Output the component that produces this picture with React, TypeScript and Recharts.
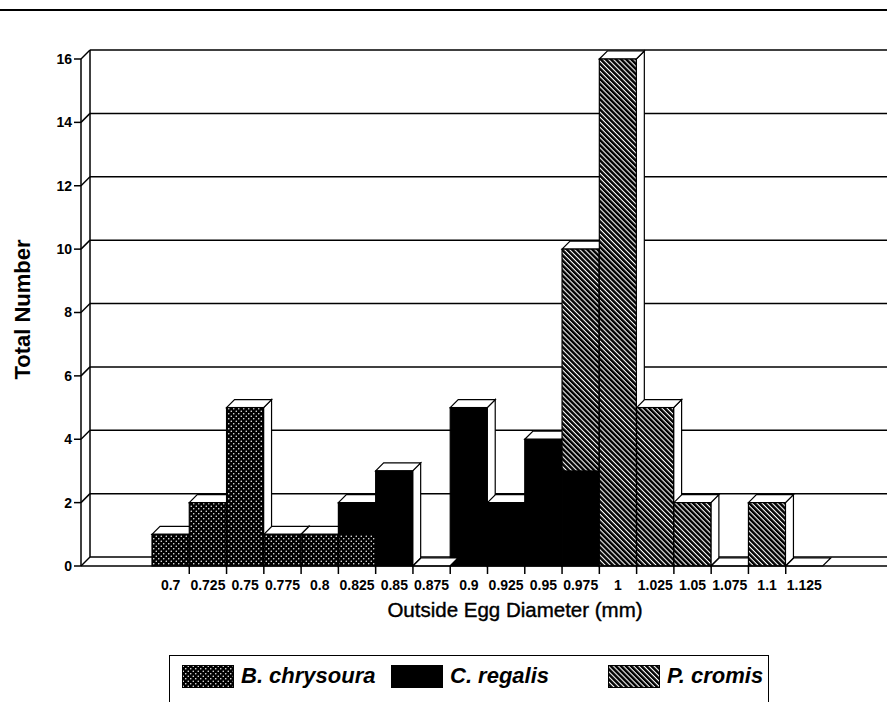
import { Bar, BarChart, CartesianGrid, XAxis, YAxis } from 'recharts';

const diameters = ['0.7', '0.725', '0.75', '0.775', '0.8', '0.825', '0.85', '0.875', '0.9', '0.925', '0.95', '0.975', '1', '1.025', '1.05', '1.075', '1.1', '1.125'];
const bChrysoura = [1, 2, 5, 1, 1, 1, 0, 0, 0, 0, 0, 0, 0, 0, 0, 0, 0, 0];
const cRegalis = [0, 0, 0, 0, 0, 1, 3, 0, 5, 2, 4, 3, 0, 0, 0, 0, 0, 0];
const pCromis = [0, 0, 0, 0, 0, 0, 0, 0, 0, 0, 0, 7, 16, 5, 2, 0, 2, 0];
const yTicks = [0, 2, 4, 6, 8, 10, 12, 14, 16];

const seriesNames = ['B. chrysoura', 'C. regalis', 'P. cromis'];
const seriesKeys = ['B', 'C', 'P'];
const seriesFills = ['url(#dots)', '#000', 'url(#hatch)'];

const data = diameters.map((d, i) => ({ d, B: bChrysoura[i], C: cRegalis[i], P: pCromis[i] }));

const FONT = '"Liberation Sans", Arial, Helvetica, sans-serif';
const WALL = 9; // depth of the back wall
const DEPTH = 8; // depth of the bars
const AXIS_X = 81;
const LEGEND_X = [12, 221, 438];

function Box3D(props: any) {
  const { x, y, width: w, height: h, payload, seriesKey, fill } = props;
  const value = payload[seriesKey];
  const total = payload.B + payload.C + payload.P;
  const line = { stroke: '#000', strokeWidth: 1.2, strokeLinejoin: 'miter' as const };

  if (!value) {
    if (seriesKey === 'P' && total === 0) {
      return (
        <polygon
          points={`${x},${y} ${x + w},${y} ${x + w + DEPTH},${y - DEPTH} ${x + DEPTH},${y - DEPTH}`}
          fill="#fff"
          {...line}
        />
      );
    }
    return <g />;
  }

  const isTop =
    seriesKey === 'P' || (seriesKey === 'C' && payload.P === 0) || (seriesKey === 'B' && payload.C === 0 && payload.P === 0);

  return (
    <g>
      <polygon
        points={`${x + w},${y} ${x + w + DEPTH},${y - DEPTH} ${x + w + DEPTH},${y + h - DEPTH} ${x + w},${y + h}`}
        fill="#fff"
        {...line}
      />
      {isTop && (
        <polygon
          points={`${x},${y} ${x + w},${y} ${x + w + DEPTH},${y - DEPTH} ${x + DEPTH},${y - DEPTH}`}
          fill="#fff"
          {...line}
        />
      )}
      <rect x={x} y={y} width={w} height={h} fill={fill} {...line} />
    </g>
  );
}

function XTick(props: any) {
  const { x, y, payload, index } = props;
  const half = payload.offset ?? 18.6;
  return (
    <g>
      {index < diameters.length - 1 && (
        <line x1={x + half} y1={y} x2={x + half} y2={y + 8} stroke="#000" strokeWidth={1.5} />
      )}
      <text x={x} y={y + 24} textAnchor="middle" fontFamily={FONT} fontWeight="bold" fontSize={14} fill="#000">
        {payload.value}
      </text>
    </g>
  );
}

function BackGridLine(props: any) {
  const { x1, y1, x2, index } = props;
  return (
    <g key={`h-${index}`}>
      <line x1={x1} y1={y1} x2={x1 + WALL} y2={y1 - WALL} stroke="#000" strokeWidth={1.5} />
      <line x1={x1 + WALL} y1={y1 - WALL} x2={x2} y2={y1 - WALL} stroke="#000" strokeWidth={1.5} />
    </g>
  );
}

function BackWallEdge(props: any) {
  const { x1, y1, y2, index } = props;
  return <line key={`v-${index}`} x1={x1} y1={y1 - WALL} x2={x1} y2={y2 - WALL} stroke="#000" strokeWidth={1.5} />;
}

function Patterns() {
  return (
    <svg width={0} height={0} style={{ position: 'absolute' }}>
      <defs>
        <pattern id="dots" width={5} height={5} patternUnits="userSpaceOnUse">
          <rect width={5} height={5} fill="#000" />
          <circle cx={1.25} cy={1.25} r={0.75} fill="#fff" />
          <circle cx={3.75} cy={3.75} r={0.75} fill="#fff" />
        </pattern>
        <pattern id="hatch" width={3.6} height={3.6} patternUnits="userSpaceOnUse" patternTransform="rotate(-45)">
          <rect width={3.6} height={3.6} fill="#fff" />
          <rect width={2.5} height={3.6} fill="#000" />
        </pattern>
      </defs>
    </svg>
  );
}

export default function App() {
  return (
    <div style={{ position: 'absolute', left: 0, top: 0, width: 887, height: 702, background: '#fff', overflow: 'hidden' }}>
      <Patterns />
      <div style={{ position: 'absolute', left: 0, top: 9, width: 887, height: 2, background: '#000' }} />
      <BarChart
        width={887}
        height={702}
        data={data}
        margin={{ top: 59, right: 0, bottom: 0, left: 0 }}
        barCategoryGap={0}
        barGap={0}
      >
        <CartesianGrid
          horizontal={(p: any) => <BackGridLine {...p} />}
          vertical={(p: any) => <BackWallEdge {...p} />}
          verticalPoints={[AXIS_X + WALL]}
        />
        <XAxis
          dataKey="d"
          type="category"
          height={136}
          padding={{ left: 71, right: 64 }}
          axisLine={{ stroke: '#000', strokeWidth: 1.5 }}
          tickLine={false}
          tickSize={0}
          tickMargin={0}
          interval={0}
          tick={(p: any) => <XTick {...p} />}
          label={{
            value: 'Outside Egg Diameter (mm)',
            content: (p: any) => (
              <text
                x={p.viewBox.x + p.viewBox.width / 2 + 31}
                y={617}
                textAnchor="middle"
                fontFamily={FONT}
                fontSize={20.5}
                fill="#000"
                stroke="#000"
                strokeWidth={0.4}
              >
                Outside Egg Diameter (mm)
              </text>
            ),
          }}
        />
        <YAxis
          width={81}
          domain={[0, 16]}
          ticks={yTicks}
          interval={0}
          axisLine={{ stroke: '#000', strokeWidth: 1.5 }}
          tickLine={{ stroke: '#000', strokeWidth: 1.5 }}
          tickSize={7}
          tickMargin={2}
          tick={{ fill: '#000', fontSize: 14, fontWeight: 'bold', fontFamily: FONT }}
          label={{
            value: 'Total Number',
            content: (p: any) => {
              const cy = p.viewBox.y + p.viewBox.height / 2 - 3;
              return (
                <text
                  x={22}
                  y={cy}
                  transform={`rotate(-90, 22, ${cy})`}
                  textAnchor="middle"
                  dominantBaseline="central"
                  fontFamily={FONT}
                  fontWeight="bold"
                  fontSize={22}
                  fill="#000"
                >
                  Total Number
                </text>
              );
            },
          }}
        />
        {seriesKeys.map((key, i) => (
          <Bar
            key={key}
            dataKey={key}
            name={seriesNames[i]}
            stackId="eggs"
            fill={seriesFills[i]}
            isAnimationActive={false}
            shape={(p: any) => <Box3D {...p} seriesKey={key} fill={seriesFills[i]} />}
          />
        ))}
      </BarChart>
      <div
        style={{
          position: 'absolute',
          left: 169,
          top: 655,
          width: 600,
          height: 60,
          border: '1.5px solid #000',
          boxSizing: 'border-box',
        }}
      >
        {seriesNames.map((name, i) => (
          <div
            key={name}
            style={{ position: 'absolute', left: LEGEND_X[i], top: 7, display: 'flex', alignItems: 'center', whiteSpace: 'nowrap' }}
          >
            <svg width={52} height={23}>
              <rect x={0.5} y={0.5} width={51} height={22} fill={seriesFills[i]} stroke="#000" />
            </svg>
            <span
              style={{
                marginLeft: 7,
                fontFamily: FONT,
                fontWeight: 'bold',
                fontStyle: 'italic',
                fontSize: 22,
                color: '#000',
              }}
            >
              {name}
            </span>
          </div>
        ))}
      </div>
    </div>
  );
}
